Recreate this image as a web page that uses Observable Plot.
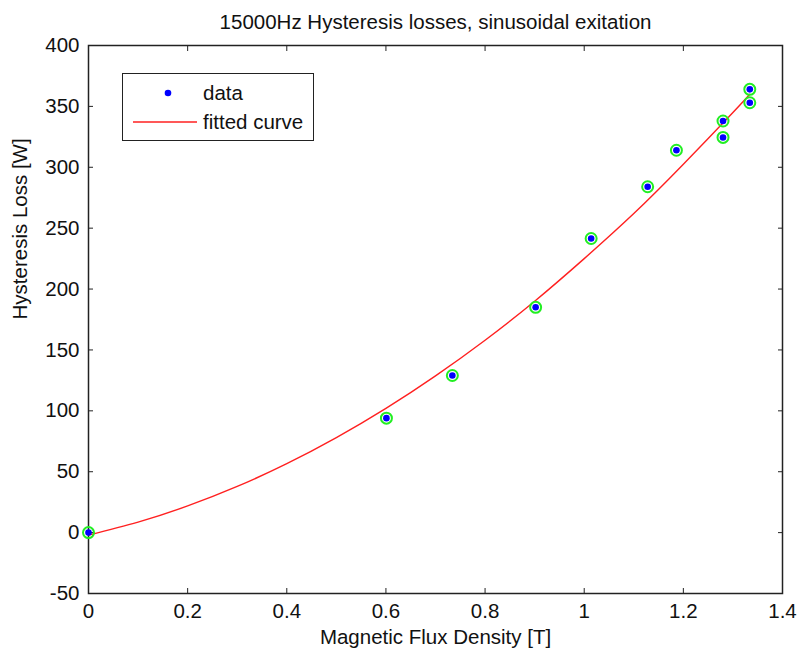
<!DOCTYPE html>
<html>
<head>
<meta charset="utf-8">
<script src="https://cdn.jsdelivr.net/npm/d3@7"></script>
<script src="https://cdn.jsdelivr.net/npm/@observablehq/plot@0.6"></script>
<style>
  html, body { margin: 0; padding: 0; background: #fff; }
  #wrap { position: relative; width: 798px; height: 651px; font-family: "Liberation Sans", Arial, sans-serif; }
  #legend { position: absolute; left: 122px; top: 73px; width: 190px; height: 66px; border: 1.5px solid #222; background: #fff; }
  #legend .row { position: absolute; left: 0; height: 24px; display: flex; align-items: center; font-size: 20.5px; color: #111; }
  #legend svg { display: block; }
</style>
</head>
<body>
<div id="wrap"></div>
<script>
const titleText = "15000Hz Hysteresis losses, sinusoidal exitation";
const xLabel = "Magnetic Flux Density [T]";
const yLabel = "Hysteresis Loss [W]";
const legendLabels = ["data", "fitted curve"];

const xTicks = [0, 0.2, 0.4, 0.6, 0.8, 1.0, 1.2, 1.4];
const yTicks = [-50, 0, 50, 100, 150, 200, 250, 300, 350, 400];

const dataX = [0, 0.601, 0.734, 0.902, 1.014, 1.128, 1.186, 1.280, 1.280, 1.334, 1.334];
const dataY = [0, 94, 129, 185, 241.5, 284, 314, 338, 324.5, 364, 353];

const curveX = [0, 0.1, 0.2, 0.3, 0.4, 0.5, 0.6, 0.7, 0.8, 0.9, 1.0, 1.1, 1.2, 1.3, 1.334];
const curveY = [-2, 8.6, 21.9, 37.9, 56.6, 78, 102, 128.7, 158, 190, 225, 262, 302.5, 345, 360];

const points = dataX.map((x, i) => ({x, y: dataY[i]}));
const curve = curveX.map((x, i) => ({x, y: curveY[i]}));

const fs = 20.5;
const chart = Plot.plot({
  width: 798,
  height: 651,
  marginLeft: 88,
  marginRight: 16,
  marginTop: 45,
  marginBottom: 58,
  style: {fontFamily: "'Liberation Sans', Arial, sans-serif", fontSize: fs + "px", color: "#111", background: "#fff", overflow: "visible"},
  x: {domain: [0, 1.4]},
  y: {domain: [-50, 400]},
  marks: [
    Plot.axisX(xTicks, {anchor: "bottom", tickSize: -5, tickPadding: 15, label: null, tickFormat: d => String(d), stroke: "#222", fill: "#111", fontSize: fs}),
    Plot.axisX(xTicks, {anchor: "top", tickSize: -5, label: null, tickFormat: () => "", stroke: "#222"}),
    Plot.axisY(yTicks, {anchor: "left", tickSize: -5, tickPadding: 14, label: null, tickFormat: d => String(d), stroke: "#222", fill: "#111", fontSize: fs}),
    Plot.axisY(yTicks, {anchor: "right", tickSize: -5, label: null, tickFormat: () => "", stroke: "#222"}),
    Plot.frame({stroke: "#222", strokeWidth: 1.5}),
    Plot.line(curve, {x: "x", y: "y", stroke: "#ff2020", strokeWidth: 1.4, curve: "natural"}),
    Plot.dot(points, {x: "x", y: "y", r: 5.5, stroke: "#22ee22", strokeWidth: 2, fill: "none"}),
    Plot.dot(points, {x: "x", y: "y", r: 3.3, fill: "#0000ff", stroke: "none", symbol: "circle"}),
    Plot.text([titleText], {frameAnchor: "top", dy: -23, lineAnchor: "middle", text: d => d, fontSize: fs, fill: "#111"}),
    Plot.text([xLabel], {frameAnchor: "bottom", dy: 44, lineAnchor: "middle", text: d => d, fontSize: fs, fill: "#111"}),
    Plot.text([yLabel], {frameAnchor: "left", dx: -68, rotate: -90, text: d => d, fontSize: fs, fill: "#111"})
  ]
});

const wrap = document.getElementById("wrap");
wrap.appendChild(chart);

const legend = document.createElement("div");
legend.id = "legend";
legend.innerHTML = `
  <div class="row" style="top:7px;">
    <svg width="80" height="24"><circle cx="45" cy="12" r="3.3" fill="#0000ff"/></svg>
    <span>${legendLabels[0]}</span>
  </div>
  <div class="row" style="top:36px;">
    <svg width="80" height="24"><line x1="10" x2="74" y1="12" y2="12" stroke="#ff2020" stroke-width="1.4"/></svg>
    <span>${legendLabels[1]}</span>
  </div>`;
wrap.appendChild(legend);
</script>
</body>
</html>
